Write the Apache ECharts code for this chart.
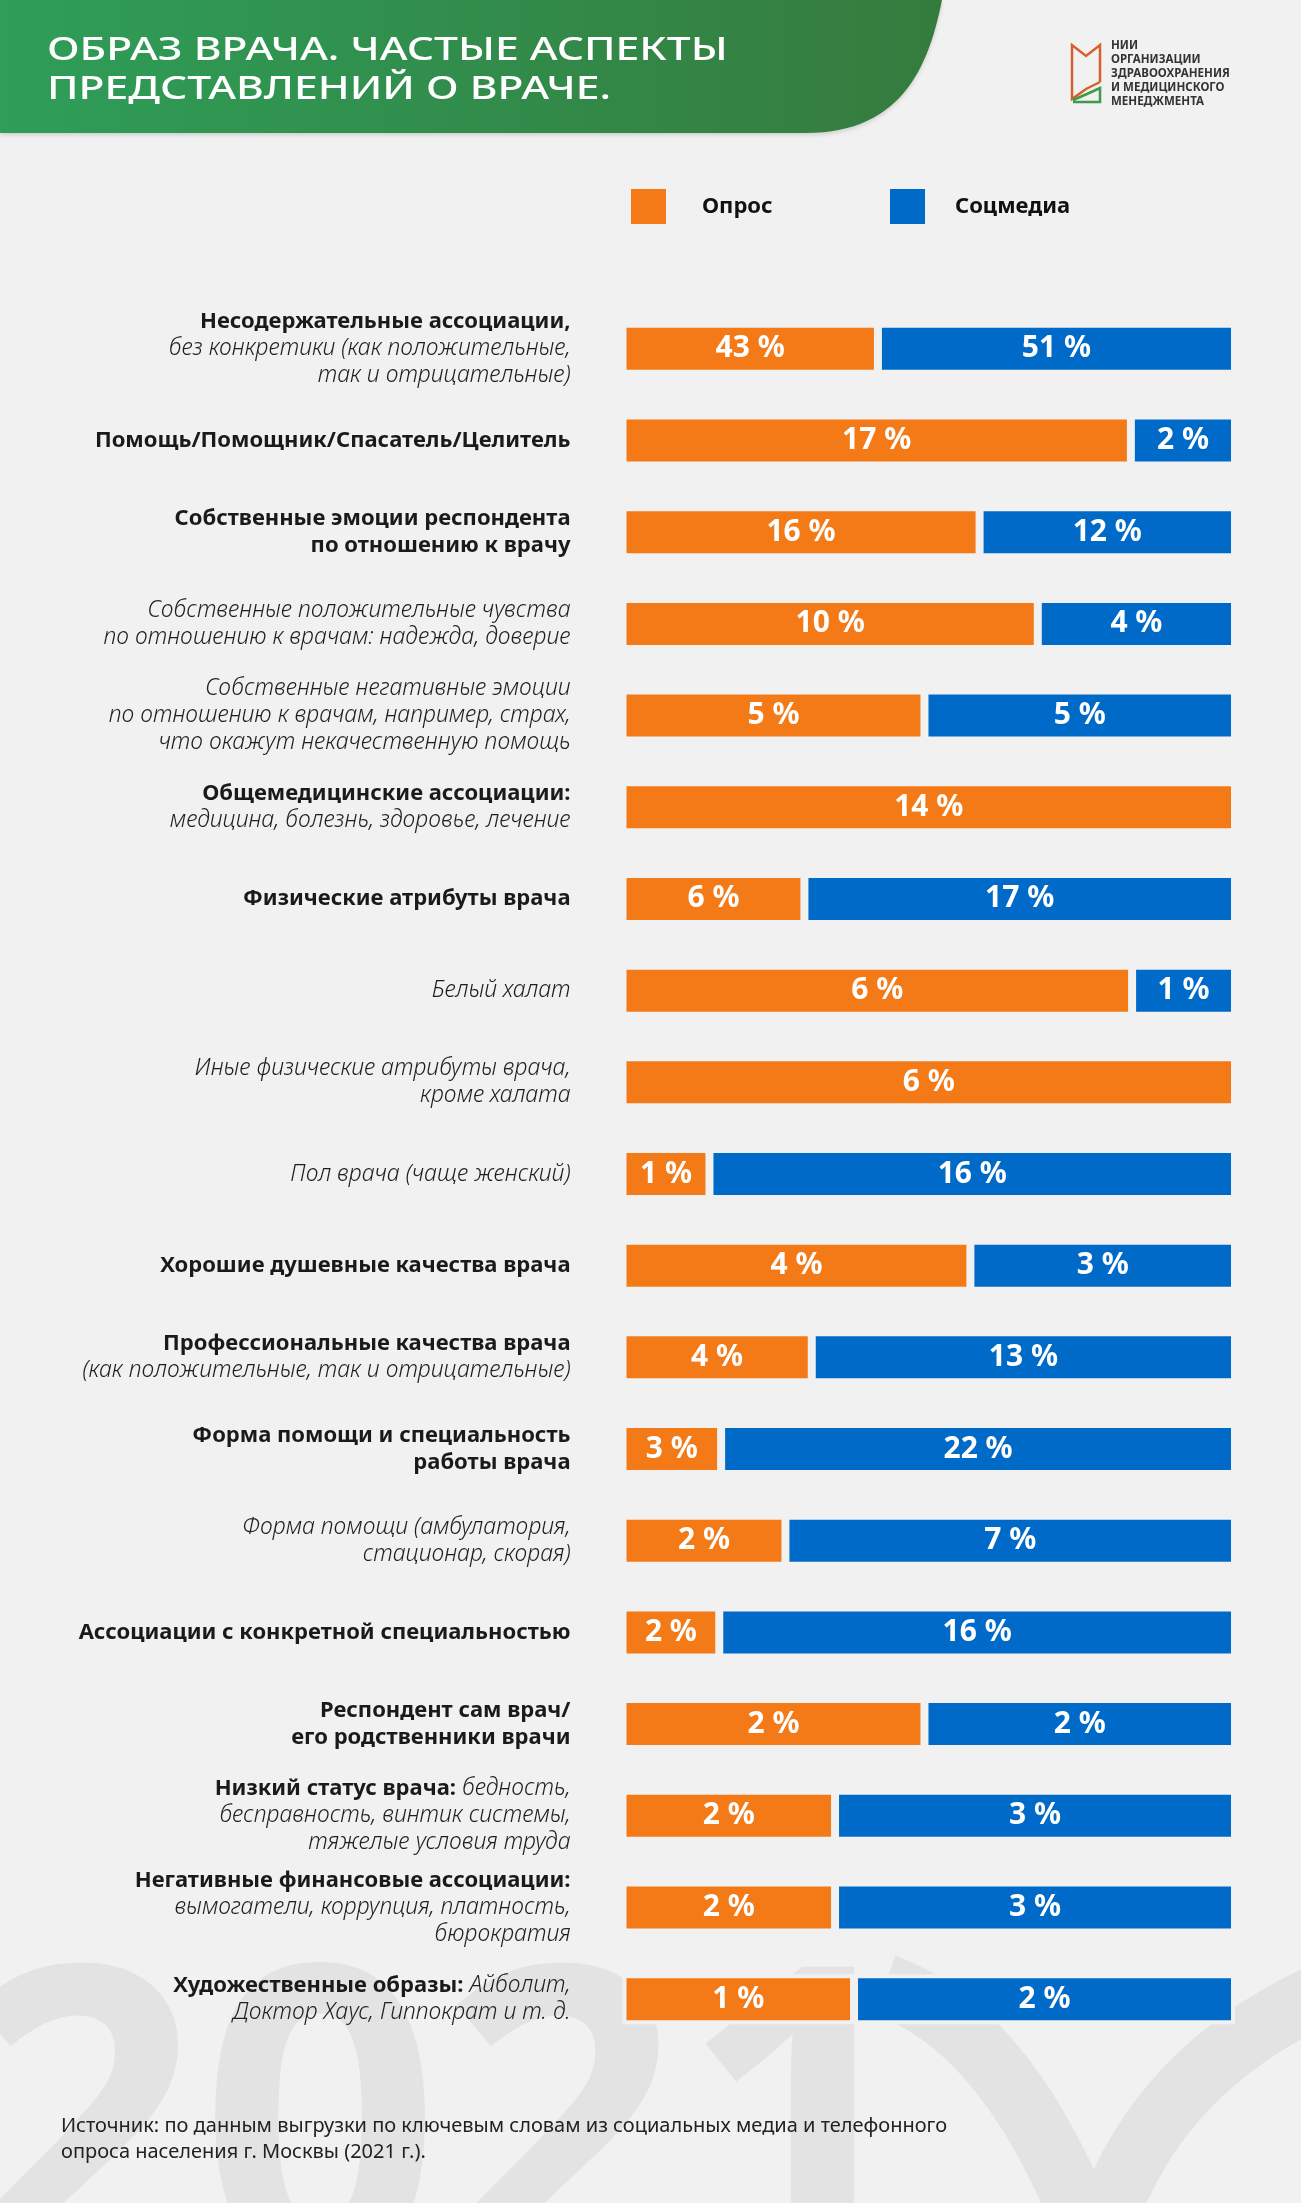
<!DOCTYPE html>
<html>
<head>
<meta charset="utf-8">
<script src="https://cdn.jsdelivr.net/npm/echarts@6/dist/echarts.min.js"></script>
<style>
  html, body { margin: 0; padding: 0; background: #f1f1f1; }
  #chart { width: 1301px; height: 2203px; }
</style>
</head>
<body>
<div id="chart"></div>
<script>
// row labels, top to bottom
var categories = [
	'Несодержательные ассоциации,\nбез конкретики (как положительные,\nтак и отрицательные)',
	'Помощь/Помощник/Спасатель/Целитель',
	'Собственные эмоции респондента\nпо отношению к врачу',
	'Собственные положительные чувства\nпо отношению к врачам: надежда, доверие',
	'Собственные негативные эмоции\nпо отношению к врачам, например, страх,\nчто окажут некачественную помощь',
	'Общемедицинские ассоциации:\nмедицина, болезнь, здоровье, лечение',
	'Физические атрибуты врача',
	'Белый халат',
	'Иные физические атрибуты врача,\nкроме халата',
	'Пол врача (чаще женский)',
	'Хорошие душевные качества врача',
	'Профессиональные качества врача\n(как положительные, так и отрицательные)',
	'Форма помощи и специальность\nработы врача',
	'Форма помощи (амбулатория,\nстационар, скорая)',
	'Ассоциации с конкретной специальностью',
	'Респондент сам врач/\nего родственники врачи',
	'Низкий статус врача: бедность,\nбесправность, винтик системы,\nтяжелые условия труда',
	'Негативные финансовые ассоциации:\nвымогатели, коррупция, платность,\nбюрократия',
	'Художественные образы: Айболит,\nДоктор Хаус, Гиппократ и т. д.'
];

// leading part of each label that is set in bold ('' = all italic)
var boldParts = [
	'Несодержательные ассоциации,',
	'Помощь/Помощник/Спасатель/Целитель',
	'Собственные эмоции респондента\nпо отношению к врачу',
	'',
	'',
	'Общемедицинские ассоциации:',
	'Физические атрибуты врача',
	'',
	'',
	'',
	'Хорошие душевные качества врача',
	'Профессиональные качества врача',
	'Форма помощи и специальность\nработы врача',
	'',
	'Ассоциации с конкретной специальностью',
	'Респондент сам врач/\nего родственники врачи',
	'Низкий статус врача:',
	'Негативные финансовые ассоциации:',
	'Художественные образы:'
];

// printed percentages
var surveyPct = [43, 17, 16, 10, 5, 14, 6, 6, 6, 1, 4, 4, 3, 2, 2, 2, 2, 2, 1];
var socialPct = [51, 2, 12, 4, 5, null, 17, 1, null, 16, 3, 13, 22, 7, 16, 2, 3, 3, 2];

// bar lengths as drawn (share of the row, %)
var surveyLen = [41.7, 83, 58.3, 67.8, 49.3, 100, 29.7, 83.2, 100, 14.2, 56.8, 30.9, 16.1, 26.6, 15.8, 49.3, 34.7, 34.7, 37.8];
var socialLen = [58.3, 17, 41.7, 32.2, 50.7, null, 70.3, 16.8, null, 85.8, 43.2, 69.1, 83.9, 73.4, 84.2, 50.7, 65.3, 65.3, 62.2];

var seriesNames = ['Опрос', 'Соцмедиа'];

var COLORS = { survey: '#f37a16', social: '#006ac8', bg: '#f1f1f1' };
var FONT = 'Noto Sans';

function richLabel(text, bold) {
	var wrap = function (s, st) {
		return s.split('\n').map(function (l) { return l ? '{' + st + '|' + l + '}' : ''; }).join('\n');
	};
	return wrap(text.slice(0, bold.length), 'b') + wrap(text.slice(bold.length), 'i');
}

// header band outline: straight top, curved right edge
function headerPoints() {
	var pts = [[0, 0], [942, 0]];
	var p0 = [942, 0], c1 = [928, 70], c2 = [900, 133], p3 = [805, 133];
	for (var k = 1; k <= 30; k++) {
		var t = k / 30, u = 1 - t;
		pts.push([
			u * u * u * p0[0] + 3 * u * u * t * c1[0] + 3 * u * t * t * c2[0] + t * t * t * p3[0],
			u * u * u * p0[1] + 3 * u * u * t * c1[1] + 3 * u * t * t * c2[1] + t * t * t * p3[1]
		]);
	}
	pts.push([0, 133]);
	return pts;
}

var myChart = echarts.init(document.getElementById('chart'));

var barLabel = {
	show: true,
	position: 'inside',
	color: '#fff',
	fontFamily: FONT,
	fontWeight: 'bold',
	fontSize: 30
};

var option = {
	backgroundColor: COLORS.bg,
	animation: false,
	textStyle: { fontFamily: FONT },

	legend: [
		{ data: [seriesNames[0]], left: 631, top: 189, gap: 31 },
		{ data: [seriesNames[1]], left: 890, top: 189, gap: 25 }
	].map(function (l) {
		var gap = l.gap;
		delete l.gap;
		l.padding = 0;
		l.icon = 'rect';
		l.itemWidth = 35;
		l.itemHeight = 35;
		l.selectedMode = false;
		l.itemStyle = { borderWidth: 0 };
		l.textStyle = { color: '#111', fontWeight: 'bold', fontSize: 22, fontFamily: FONT, padding: [0, 0, 0, gap] };
		return l;
	}),

	grid: { left: 622.5, right: 66, top: 303, height: 1742 },

	xAxis: { type: 'value', min: 0, max: 100, show: false },

	yAxis: {
		type: 'category',
		inverse: true,
		data: categories,
		axisLine: { show: false },
		axisTick: { show: false },
		axisLabel: {
			interval: 0,
			align: 'right',
			margin: 52,
			formatter: function (value, idx) {
				return richLabel(value, boldParts[idx]);
			},
			rich: {
				b: { fontFamily: FONT, fontWeight: 'bold', fontSize: 22, lineHeight: 27, color: '#1a1a1a', align: 'right' },
				i: { fontFamily: FONT, fontStyle: 'italic', fontWeight: 300, fontSize: 23, lineHeight: 27, color: '#1e1e1e', align: 'right' }
			}
		}
	},

	series: [
		{
			name: seriesNames[0],
			type: 'bar',
			stack: 'row',
			barWidth: 50,
			itemStyle: { color: COLORS.survey, borderColor: COLORS.bg, borderWidth: 4 },
			label: Object.assign({}, barLabel, {
				formatter: function (p) { return surveyPct[p.dataIndex] + ' %'; }
			}),
			data: surveyLen
		},
		{
			name: seriesNames[1],
			type: 'bar',
			stack: 'row',
			barWidth: 50,
			itemStyle: { color: COLORS.social, borderColor: COLORS.bg, borderWidth: 4 },
			label: Object.assign({}, barLabel, {
				formatter: function (p) { return socialPct[p.dataIndex] + ' %'; }
			}),
			data: socialLen
		}
	],

	graphic: [
		// faint "2021" in the background
		{
			type: 'text', z: -10, silent: true,
			x: -40, y: 2357,
			style: { text: '2021', fontFamily: FONT, fontWeight: 'bold', fontSize: 420, fill: '#e3e3e3', verticalAlign: 'bottom' }
		},
		{
			type: 'bezierCurve', z: -10, silent: true,
			shape: { x1: 885, y1: 1985, cpx1: 1010, cpy1: 2030, x2: 1090, y2: 2240 },
			style: { stroke: '#e3e3e3', lineWidth: 62, fill: null }
		},
		{
			type: 'bezierCurve', z: -10, silent: true,
			shape: { x1: 1330, y1: 1990, cpx1: 1150, cpy1: 2070, x2: 1100, y2: 2240 },
			style: { stroke: '#e3e3e3', lineWidth: 62, fill: null }
		},
		// header band
		{
			type: 'polygon', z: 1,
			shape: { points: headerPoints() },
			style: {
				fill: { type: 'linear', x: 0, y: 0, x2: 1, y2: 0, colorStops: [{ offset: 0, color: '#2e9e58' }, { offset: 1, color: '#357b3e' }] },
				shadowBlur: 4, shadowColor: 'rgba(0,0,0,0.15)', shadowOffsetY: 2
			}
		},
		{
			type: 'text', z: 2, x: 47, y: 31, scaleX: 1.31,
			style: {
				text: 'ОБРАЗ ВРАЧА. ЧАСТЫЕ АСПЕКТЫ\nПРЕДСТАВЛЕНИЙ О ВРАЧЕ.',
				fontFamily: FONT, fontWeight: 500, fontSize: 32.5, lineHeight: 39, fill: '#fff'
			}
		},
		// logo
		{
			type: 'polyline', z: 2,
			shape: { points: [[1100, 82], [1100, 45], [1086, 56], [1072, 45], [1072, 99], [1086, 89], [1100, 82]] },
			style: { stroke: '#d8602c', lineWidth: 2.5, fill: null }
		},
		{
			type: 'polyline', z: 2,
			shape: { points: [[1073, 102], [1100, 102], [1100, 88], [1087, 94], [1073, 100]] },
			style: { stroke: '#3f9a4a', lineWidth: 2.5, fill: null }
		},
		{
			type: 'text', z: 2, x: 1111, y: 39,
			style: {
				text: 'НИИ\nОРГАНИЗАЦИИ\nЗДРАВООХРАНЕНИЯ\nИ МЕДИЦИНСКОГО\nМЕНЕДЖМЕНТА',
				fontFamily: FONT, fontWeight: 'bold', fontSize: 11.5, lineHeight: 14, fill: '#333'
			}
		},
		// source note
		{
			type: 'text', z: 2, x: 61, y: 2113,
			style: {
				text: 'Источник: по данным выгрузки по ключевым словам из социальных медиа и телефонного\nопроса населения г. Москвы (2021 г.).',
				fontFamily: FONT, fontSize: 20, lineHeight: 26, fill: '#222'
			}
		}
	]
};

myChart.setOption(option);
</script>
</body>
</html>
